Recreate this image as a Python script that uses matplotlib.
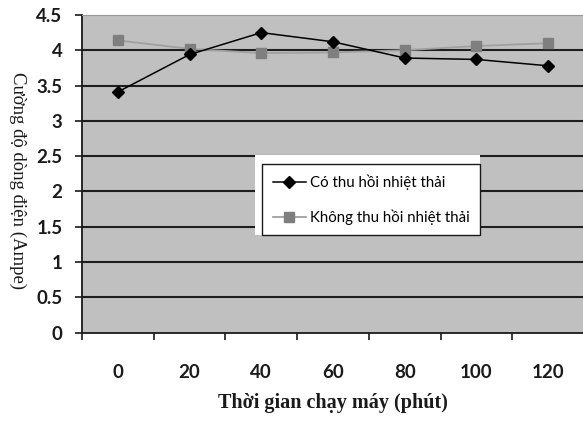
import matplotlib.pyplot as plt
import matplotlib.patches as mpatches
import numpy as np

# du lieu doc tu hinh
thoi_gian = ["0", "20", "40", "60", "80", "100", "120"]
co_thu_hoi = [3.41, 3.94, 4.25, 4.12, 3.89, 3.87, 3.78]
khong_thu_hoi = [4.14, 4.02, 3.96, 3.97, 4.00, 4.06, 4.10]
y_ticks = [0, 0.5, 1, 1.5, 2, 2.5, 3, 3.5, 4, 4.5]

fig = plt.figure(figsize=(5.83, 4.22), dpi=100)
ax = fig.add_axes([0.1407, 0.212, 0.861, 0.7525])

x = np.arange(len(thoi_gian))

ax.set_facecolor("#c0c0c0")
for yv in y_ticks[1:-1]:
    ax.axhline(yv, color="#1e1e1e", lw=1.5, zorder=1)

ax.plot(x, co_thu_hoi, color="black", lw=1.1, marker="D", markersize=6.5,
        label="Có thu hồi nhiệt thải", zorder=3)
ax.plot(x, khong_thu_hoi, color="#a0a0a0", lw=1.3, marker="s", markersize=7,
        markerfacecolor="#7f7f7f", markeredgecolor="#7f7f7f",
        label="Không thu hồi nhiệt thải", zorder=2)

ax.set_xlim(-0.5, len(thoi_gian) - 0.5)
ax.set_ylim(0, 4.5)

# vach chia o ranh gioi, nhan o giua
ax.set_xticks(np.arange(len(thoi_gian) + 1) - 0.5)
ax.set_xticklabels([])
ax.set_xticks(x, minor=True)
ax.set_xticklabels(thoi_gian, minor=True, family="Lato", fontweight="bold",
                   fontsize=13.5, color="#1a1a1a")
ax.tick_params(axis="x", which="minor", length=0, pad=23)
ax.tick_params(axis="x", which="major", direction="out", length=5, width=1.2,
               color="#1a1a1a")

ax.set_yticks(y_ticks)
ax.set_yticklabels([f"{v:g}" for v in y_ticks], family="Lato",
                   fontweight="bold", fontsize=13.5, color="#1a1a1a")
ax.tick_params(axis="y", direction="out", length=5, width=1.2, pad=9,
               color="#1a1a1a")

for s in ["top", "right"]:
    ax.spines[s].set_color("#9a9a9a")
    ax.spines[s].set_linewidth(0.8)
ax.spines["left"].set_color("#1a1a1a")
ax.spines["bottom"].set_color("#1a1a1a")
ax.spines["left"].set_linewidth(1.3)
ax.spines["bottom"].set_linewidth(1.3)

ax.set_xlabel("Thời gian chạy máy (phút)", family="Liberation Serif",
              fontweight="bold", fontsize=14.5, labelpad=8, color="#1a1a1a")
ax.set_ylabel("Cường độ dòng điện (Ampe)", family="Liberation Serif",
              fontsize=13.5, rotation=270, va="center", color="#1a1a1a")
ax.yaxis.set_label_coords(-0.1275, 0.479)

# nen trang quanh chu giai
ax.add_patch(mpatches.Rectangle((0.3446, 0.307), 0.4484, 0.252,
                                transform=ax.transAxes, facecolor="white",
                                edgecolor="none", zorder=4))
leg = ax.legend(loc="upper left", bbox_to_anchor=(0.3586, 0.531),
                borderaxespad=0, fancybox=False, framealpha=1,
                edgecolor="#1a1a1a", prop={"family": "Lato", "size": 10.8},
                handlelength=2.2, handletextpad=0.3, labelspacing=1.3,
                borderpad=0.7)
leg.get_frame().set_linewidth(1.0)
leg.set_zorder(5)

plt.savefig("out.png", dpi=100)
